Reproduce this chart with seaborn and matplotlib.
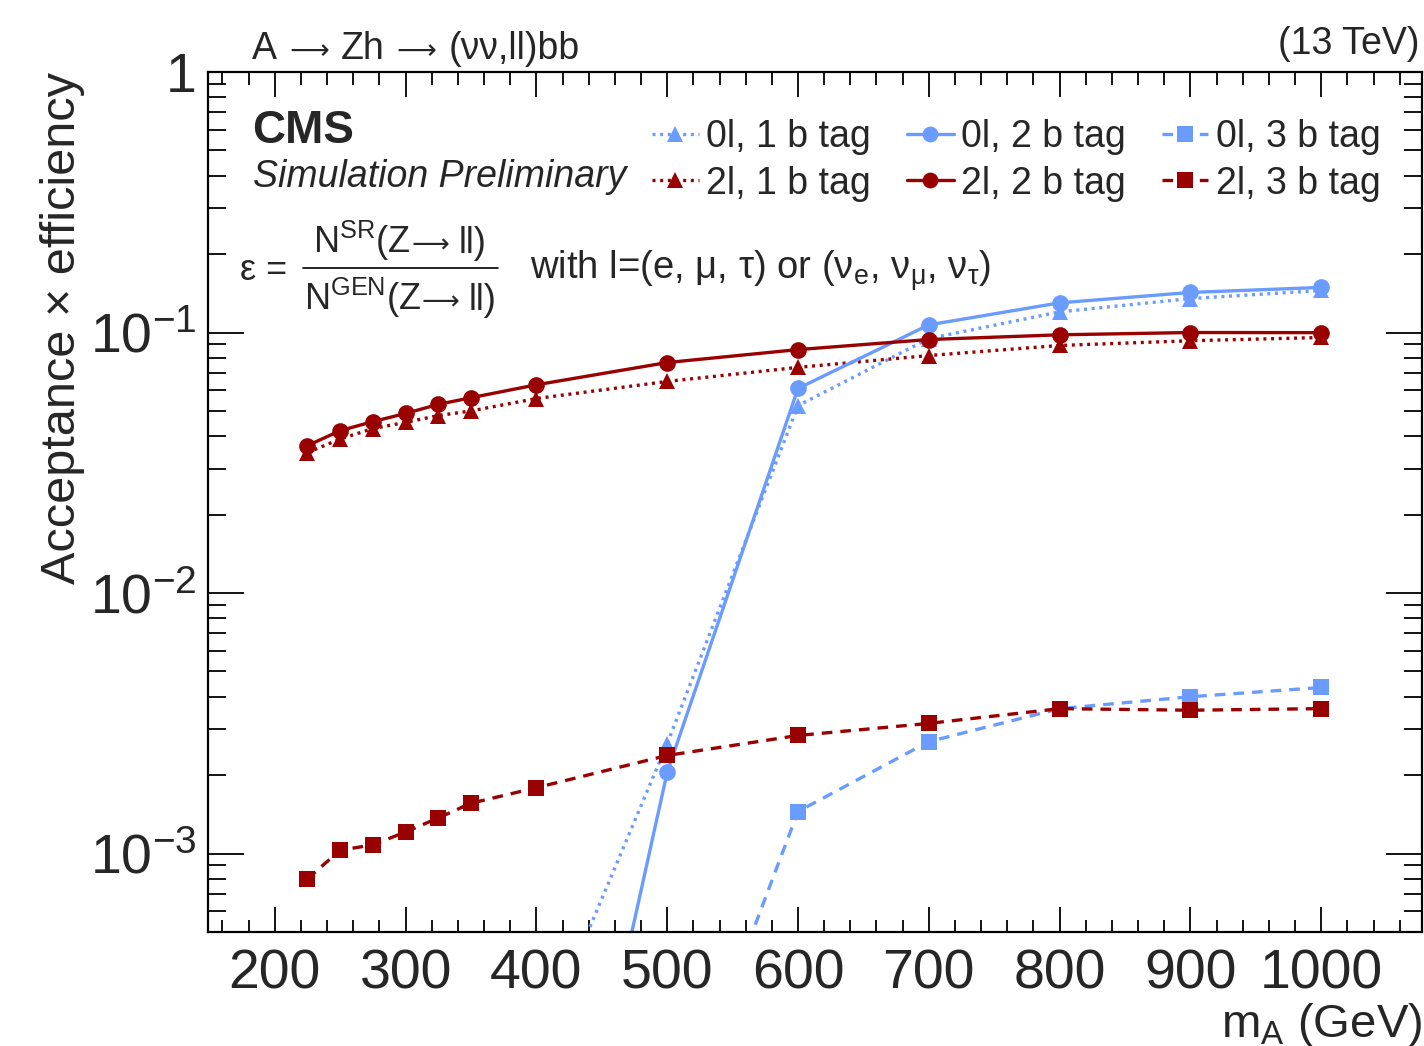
import numpy as np
import pandas as pd
import matplotlib
matplotlib.use("Agg")
import matplotlib.pyplot as plt
import matplotlib.ticker as mticker
import seaborn as sns

# ---------------- data ----------------
mass_2l = [225, 250, 275, 300, 325, 350, 400, 500, 600, 700, 800, 900, 1000]
eff_2l_1b = [0.0346, 0.039, 0.0428, 0.0452, 0.048, 0.050, 0.0558, 0.0649, 0.0735, 0.0816, 0.0892, 0.093, 0.0957]
eff_2l_2b = [0.0368, 0.042, 0.0455, 0.0489, 0.053, 0.0562, 0.063, 0.0767, 0.086, 0.094, 0.098, 0.100, 0.0999]
eff_2l_3b = [0.00080, 0.00103, 0.00108, 0.00121, 0.00137, 0.00156, 0.00179, 0.00238, 0.00284, 0.00316, 0.00360, 0.00355, 0.00360]

mass_0l = [400, 500, 600, 700, 800, 900, 1000]
eff_0l_1b = [0.00017, 0.00264, 0.0524, 0.0948, 0.120, 0.135, 0.145]
eff_0l_2b = [0.000011, 0.00205, 0.061, 0.107, 0.130, 0.1425, 0.149]
mass_0l_3b = [500, 600, 700, 800, 900, 1000]
eff_0l_3b = [0.000068, 0.00145, 0.00269, 0.0036, 0.0040, 0.00434]

labels = ["0l, 1 b tag", "0l, 2 b tag", "0l, 3 b tag",
          "2l, 1 b tag", "2l, 2 b tag", "2l, 3 b tag"]

BLUE = "#6a9bff"
RED = "#990000"

sns.set_style("white")
plt.rcParams["font.family"] = ["Liberation Sans", "DejaVu Sans"]
plt.rcParams["mathtext.fontset"] = "custom"
plt.rcParams["mathtext.rm"] = "Liberation Sans"
plt.rcParams["mathtext.it"] = "Liberation Sans:italic"
plt.rcParams["mathtext.bf"] = "Liberation Sans:bold"
plt.rcParams["mathtext.sf"] = "Liberation Sans"

W, H = 1424, 1046
fig = plt.figure(figsize=(W / 100, H / 100), dpi=100)
fx = lambda px: px / W
fy = lambda py: 1 - py / H
ax = fig.add_axes([fx(208), fy(932), fx(1422) - fx(208), fy(72) - fy(932)])

DOT = (0, (0.9, 1.4))
DASH = (0, (3.2, 2.4))
lw = 2.4
ms = 12

series = [
    (mass_0l, eff_0l_1b, BLUE, "^", DOT, labels[0]),
    (mass_2l, eff_2l_1b, RED, "^", DOT, labels[3]),
    (mass_0l, eff_0l_2b, BLUE, "o", "-", labels[1]),
    (mass_2l, eff_2l_2b, RED, "o", "-", labels[4]),
    (mass_0l_3b, eff_0l_3b, BLUE, "s", DASH, labels[2]),
    (mass_2l, eff_2l_3b, RED, "s", DASH, labels[5]),
]

handles = []
for xs, ys, col, mk, ls, lab in series:
    df = pd.DataFrame({"m": xs, "eff": ys})
    sns.lineplot(data=df, x="m", y="eff", color=col, marker=mk, linestyle=ls,
                 linewidth=lw, markersize=ms, markeredgewidth=0, ax=ax,
                 label=lab, legend=False, errorbar=None)
    handles.append(ax.lines[-1])

ax.set_yscale("log")
ax.set_xlim(149, 1077)
ax.set_ylim(5e-4, 1)

def yfmt(v, pos):
    e = int(round(np.log10(v)))
    if e == 0:
        return "1"
    return r"$\mathdefault{10^{%d}}$" % e

ax.yaxis.set_major_locator(mticker.LogLocator(base=10, numticks=10))
ax.yaxis.set_minor_locator(mticker.LogLocator(base=10, subs=np.arange(2, 10), numticks=20))
ax.yaxis.set_major_formatter(mticker.FuncFormatter(yfmt))
ax.yaxis.set_minor_formatter(mticker.NullFormatter())
ax.xaxis.set_major_locator(mticker.MultipleLocator(100))
ax.xaxis.set_minor_locator(mticker.MultipleLocator(20))

ax.tick_params(axis="both", which="both", direction="in", top=True, right=True,
               bottom=True, left=True, color="black", width=1.3)
ax.tick_params(axis="x", which="major", length=18, labelsize=40, pad=12)
ax.tick_params(axis="x", which="minor", length=9)
ax.tick_params(axis="y", which="major", length=26, labelsize=40, pad=8)
ax.tick_params(axis="y", which="minor", length=13)
for s in ax.spines.values():
    s.set_linewidth(1.6)
    s.set_color("black")

ax.set_xlabel(r"m$_{\mathrm{A}}$ (GeV)", fontsize=34, loc="right", labelpad=0)
ax.set_ylabel("Acceptance × efficiency", fontsize=35, loc="top", labelpad=4)

# legend
leg = ax.legend(handles=handles,
                labels=[labels[0], labels[3], labels[1], labels[4], labels[2], labels[5]],
                ncol=3, loc="upper left", bbox_to_anchor=(fx(652), fy(119)),
                bbox_transform=fig.transFigure, frameon=False, fontsize=27,
                handlelength=1.25, handletextpad=0.2, columnspacing=0.95,
                labelspacing=0.28, borderpad=0, borderaxespad=0, markerscale=0.95)

# ------------- texts -------------
renderer = fig.canvas.get_renderer()


def chain(pieces, x, y, align="left"):
    """Place text pieces left to right on one baseline; pieces: (text, kwargs, gap_px)."""
    cur = x
    made = []
    for s, kw, gap in pieces:
        t = fig.text(fx(cur), fy(y), s, va="baseline", ha="left", **kw)
        w = t.get_window_extent(renderer).width
        made.append((t, cur))
        cur += w + gap
    total = cur - x
    if align == "center":
        for t, c in made:
            t.set_x(fx(c - total / 2))
    return made


ARW = dict(family=["DejaVu Sans"], fontsize=20)
T27 = dict(fontsize=27)
chain([("A", T27, 12), ("⟶", ARW, 12), ("Zh", T27, 12), ("⟶", ARW, 12),
       ("(νν,ll)bb", T27, 0)], 252, 59)

fig.text(fx(1420), fy(54), "(13 TeV)", fontsize=27, va="baseline", ha="right")
fig.text(fx(252), fy(143), "CMS", fontsize=33, fontweight="bold", va="baseline", ha="left")
fig.text(fx(253), fy(187), "Simulation Preliminary", fontsize=27, style="italic",
         va="baseline", ha="left")

T26 = dict(fontsize=26)
ARW2 = dict(family=["DejaVu Sans"], fontsize=19)
fig.text(fx(240), fy(280), "ε =", fontsize=26, va="baseline", ha="left")
chain([(r"N$^{\mathrm{SR}}$(Z", T26, 1), ("⟶", ARW2, 9), ("ll)", T26, 0)], 400, 253, "center")
chain([(r"N$^{\mathrm{GEN}}$(Z", T26, 1), ("⟶", ARW2, 9), ("ll)", T26, 0)], 400, 310, "center")
fig.add_artist(plt.Line2D([fx(303), fx(498)], [fy(268), fy(268)], color="black", lw=1.2))
fig.text(fx(530), fy(280),
         r"with l=(e, μ, τ) or (ν$_{\mathrm{e}}$, ν$_{\mathrm{μ}}$, ν$_{\mathrm{τ}}$)",
         fontsize=27.5, va="baseline", ha="left")

fig.savefig("out.png", dpi=100)
